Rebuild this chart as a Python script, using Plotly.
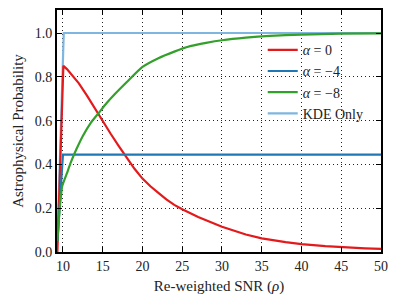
import plotly.graph_objects as go

# Data
snr_red = [9.3, 9.6, 9.9, 10.05, 10.5, 11, 12, 13, 14, 15, 16, 17, 18, 19, 20, 21, 22, 23, 24, 25, 27, 30, 33, 35, 38, 40, 43, 45, 48, 50]
p_red = [0.0, 0.35, 0.75, 0.85, 0.835, 0.815, 0.77, 0.715, 0.655, 0.595, 0.54, 0.485, 0.43, 0.38, 0.335, 0.3, 0.27, 0.24, 0.215, 0.195, 0.16, 0.115, 0.08, 0.062, 0.045, 0.036, 0.027, 0.022, 0.017, 0.014]

snr_blue = [9.3, 10.0, 50]
p_blue = [0.05, 0.445, 0.445]

snr_green = [9.3, 9.6, 9.9, 10.5, 11, 11.7, 12.5, 13.5, 14.5, 15.5, 16.5, 18, 20, 22, 24, 26, 28, 30, 33, 36, 40, 45, 50]
p_green = [0.05, 0.2, 0.3, 0.36, 0.41, 0.47, 0.53, 0.59, 0.635, 0.68, 0.72, 0.775, 0.845, 0.885, 0.915, 0.94, 0.955, 0.967, 0.979, 0.987, 0.993, 0.997, 0.998]

snr_kde = [9.3, 10.1, 50]
p_kde = [0.05, 1.0, 1.0]

x_ticks = [10, 15, 20, 25, 30, 35, 40, 45, 50]
y_ticks = [0.0, 0.2, 0.4, 0.6, 0.8, 1.0]

font_family = "Liberation Serif, DejaVu Serif, serif"

fig = go.Figure()
fig.add_trace(go.Scatter(x=snr_kde, y=p_kde, mode="lines", name="KDE Only",
                         line=dict(color="#7fb6df", width=2.2)))
fig.add_trace(go.Scatter(x=snr_red, y=p_red, mode="lines", name="<i>α</i> = 0",
                         line=dict(color="#e31a1c", width=2.2)))
fig.add_trace(go.Scatter(x=snr_blue, y=p_blue, mode="lines", name="<i>α</i> = −4",
                         line=dict(color="#1f78b4", width=2.2)))
fig.add_trace(go.Scatter(x=snr_green, y=p_green, mode="lines", name="<i>α</i> = −8",
                         line=dict(color="#33a02c", width=2.2, shape="spline", smoothing=0.5)))

axis_common = dict(
    showline=True, linecolor="black", linewidth=1.8, mirror="ticks",
    ticks="inside", ticklen=5, tickcolor="black", tickwidth=1,
    showgrid=True, gridcolor="#222", griddash="1px,3px", gridwidth=1,
    zeroline=False, automargin=False,
    tickfont=dict(family=font_family, size=14, color="#222"),
)

fig.update_layout(
    width=399, height=307,
    margin=dict(l=57, r=18, t=10, b=55),
    paper_bgcolor="white", plot_bgcolor="white",
    font=dict(family=font_family, size=14, color="#222"),
    showlegend=True,
    legend=dict(x=0.635, y=0.90, xanchor="left", yanchor="top",
                bgcolor="rgba(0,0,0,0)", borderwidth=0,
                traceorder="normal", font=dict(family=font_family, size=14),
                itemwidth=30, tracegroupgap=0),
    xaxis=dict(range=[9.25, 50], tickvals=x_ticks, ticktext=[str(v) for v in x_ticks],
               title=dict(text="Re-weighted SNR (<i>ρ</i>)", font=dict(family=font_family, size=15), standoff=8),
               **axis_common),
    yaxis=dict(range=[0, 1.105], tickvals=y_ticks, ticktext=[f"{v:.1f}" for v in y_ticks],
               title=dict(text="Astrophysical Probability", font=dict(family=font_family, size=15), standoff=8),
               **axis_common),
)

# legend order: α=0, α=-4, α=-8, KDE Only
fig.data[0].legendrank = 4
fig.data[1].legendrank = 1
fig.data[2].legendrank = 2
fig.data[3].legendrank = 3

fig.write_html("out.html", config={"displayModeBar": False},
               post_script="document.body.style.margin='0';")
